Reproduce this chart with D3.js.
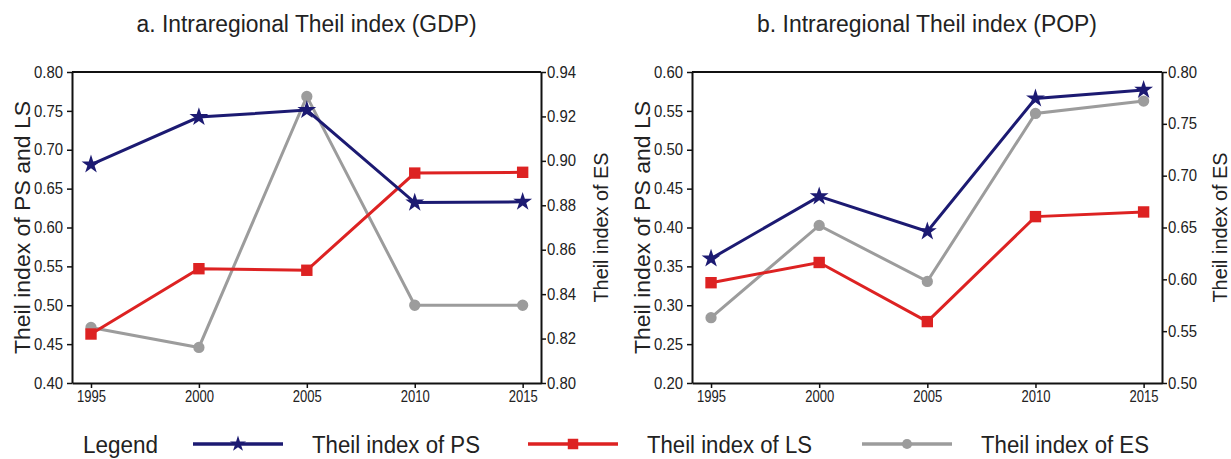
<!DOCTYPE html>
<html>
<head>
<meta charset="utf-8">
<script src="https://cdn.jsdelivr.net/npm/d3@7"></script>
<style>
  body { margin: 0; background: #fff; }
  text { font-family: "Liberation Sans", Arial, sans-serif; fill: #222; }
</style>
</head>
<body>
<svg width="1231" height="459"></svg>
<script>
// data
var years = [1995, 2000, 2005, 2010, 2015];

var gdpPS = [0.681, 0.742, 0.751, 0.632, 0.633];
var gdpLS = [0.463, 0.547, 0.545, 0.670, 0.671];
var gdpES = [0.825, 0.816, 0.929, 0.835, 0.835];

var popPS = [0.360, 0.440, 0.395, 0.566, 0.577];
var popLS = [0.329, 0.355, 0.279, 0.414, 0.420];
var popES = [0.563, 0.652, 0.598, 0.760, 0.772];

var gdpLeftTicks = [0.40, 0.45, 0.50, 0.55, 0.60, 0.65, 0.70, 0.75, 0.80];
var gdpRightTicks = [0.80, 0.82, 0.84, 0.86, 0.88, 0.90, 0.92, 0.94];
var popLeftTicks = [0.20, 0.25, 0.30, 0.35, 0.40, 0.45, 0.50, 0.55, 0.60];
var popRightTicks = [0.50, 0.55, 0.60, 0.65, 0.70, 0.75, 0.80];

var seriesNames = ['Theil index of PS', 'Theil index of LS', 'Theil index of ES'];
var colors = ['#1c1a72', '#dd2222', '#9c9c9c'];

var svg = d3.select('svg');

function drawPanel(opt) {
    var g = svg.append('g').attr('transform', 'translate(' + [opt.left, 72] + ')');
    var w = opt.width, h = 311;

    var x = d3.scaleLinear().domain([1994.12, 2015.85]).range([0, w]);
    var yL = d3.scaleLinear().domain(opt.leftDomain).range([h, 0]);
    var yR = d3.scaleLinear().domain(opt.rightDomain).range([h, 0]);

    // title (the original font is a narrow sans, so squeeze to its width)
    svg.append('text')
        .attr('x', opt.left + w / 2)
        .attr('y', 32)
        .attr('text-anchor', 'middle')
        .attr('textLength', 340)
        .attr('lengthAdjust', 'spacingAndGlyphs')
        .style('font-size', '23px')
        .text(opt.title);

    // top border
    g.append('line').attr('x1', 0).attr('x2', w).attr('y1', 0).attr('y2', 0)
        .attr('stroke', '#111').attr('stroke-width', 2);

    var xAx = g.append('g').attr('class', 'axis')
        .attr('transform', 'translate(' + [0, h] + ')')
        .call(d3.axisBottom(x).tickValues(years).tickFormat(d3.format('d')).tickSize(5).tickSizeOuter(0));
    var lAx = g.append('g').attr('class', 'axis')
        .call(d3.axisLeft(yL).tickValues(opt.leftTicks).tickFormat(d3.format('.2f')).tickSize(5).tickSizeOuter(0));
    var rAx = g.append('g').attr('class', 'axis')
        .attr('transform', 'translate(' + [w, 0] + ')')
        .call(d3.axisRight(yR).tickValues(opt.rightTicks).tickFormat(d3.format('.2f')).tickSize(5).tickSizeOuter(0));

    [xAx, lAx, rAx].forEach(function(a) {
        a.select('.domain').attr('stroke', '#111').attr('stroke-width', 2);
        a.selectAll('.tick line').attr('stroke', '#111').attr('stroke-width', 1.5);
        a.selectAll('.tick text')
            .style('font-size', '16px')
            .style('font-family', '"Liberation Sans", Arial, sans-serif')
            .attr('textLength', 29)
            .attr('lengthAdjust', 'spacingAndGlyphs')
            .attr('fill', '#333');
    });
    lAx.selectAll('.tick text').attr('x', -9);
    rAx.selectAll('.tick text').attr('x', 6);
    xAx.selectAll('.tick text').attr('y', 8);

    // axis titles
    g.append('text')
        .attr('transform', 'translate(' + [-42, h / 2] + ') rotate(-90)')
        .attr('text-anchor', 'middle')
        .attr('textLength', 253)
        .attr('lengthAdjust', 'spacingAndGlyphs')
        .style('font-size', '22px')
        .text('Theil index of PS and LS');
    g.append('text')
        .attr('transform', 'translate(' + [w + opt.rightLabelDx, h / 2] + ') rotate(-90)')
        .attr('text-anchor', 'middle')
        .attr('textLength', 150)
        .attr('lengthAdjust', 'spacingAndGlyphs')
        .style('font-size', '20px')
        .text('Theil index of ES');

    var series = [
        {vals: opt.ps, y: yL, sym: d3.symbolStar, size: 110},
        {vals: opt.ls, y: yL, sym: d3.symbolSquare, size: 130},
        {vals: opt.es, y: yR, sym: d3.symbolCircle, size: 100}
    ];
    // draw ES first so it sits beneath
    [2, 1, 0].forEach(function(i) {
        var s = series[i];
        var line = d3.line()
            .x(function(d, j) { return x(years[j]); })
            .y(function(d) { return s.y(d); });
        g.append('path')
            .datum(s.vals)
            .attr('d', line)
            .attr('fill', 'none')
            .attr('stroke', colors[i])
            .attr('stroke-width', 3);
        g.selectAll('.pt' + i)
            .data(s.vals)
            .enter()
            .append('path')
            .attr('transform', function(d, j) { return 'translate(' + [x(years[j]), s.y(d)] + ')'; })
            .attr('d', d3.symbol().type(s.sym).size(s.size))
            .attr('fill', colors[i]);
    });
}

drawPanel({
    left: 72, width: 469, rightLabelDx: 67,
    title: 'a. Intraregional Theil index (GDP)',
    leftDomain: [0.40, 0.80], rightDomain: [0.80, 0.94],
    leftTicks: gdpLeftTicks, rightTicks: gdpRightTicks,
    ps: gdpPS, ls: gdpLS, es: gdpES
});
drawPanel({
    left: 692, width: 470, rightLabelDx: 65,
    title: 'b. Intraregional Theil index (POP)',
    leftDomain: [0.20, 0.60], rightDomain: [0.50, 0.80],
    leftTicks: popLeftTicks, rightTicks: popRightTicks,
    ps: popPS, ls: popLS, es: popES
});

// legend
var lg = svg.append('g').attr('transform', 'translate(0,444)');
lg.append('text').attr('x', 83).attr('y', 9)
    .attr('textLength', 75).attr('lengthAdjust', 'spacingAndGlyphs')
    .style('font-size', '23px').text('Legend');
var legX = [193, 528, 862];
var legTextW = [168, 165, 168];
var syms = [d3.symbolStar, d3.symbolSquare, d3.symbolCircle];
var symSize = [80, 110, 80];
seriesNames.forEach(function(name, i) {
    lg.append('line')
        .attr('x1', legX[i]).attr('x2', legX[i] + 90)
        .attr('y1', 0).attr('y2', 0)
        .attr('stroke', colors[i]).attr('stroke-width', 3.5);
    lg.append('path')
        .attr('transform', 'translate(' + [legX[i] + 45, 0] + ')')
        .attr('d', d3.symbol().type(syms[i]).size(symSize[i]))
        .attr('fill', colors[i]);
    lg.append('text')
        .attr('x', legX[i] + 119).attr('y', 9)
        .attr('textLength', legTextW[i]).attr('lengthAdjust', 'spacingAndGlyphs')
        .style('font-size', '23px')
        .text(name);
});
</script>
</body>
</html>
